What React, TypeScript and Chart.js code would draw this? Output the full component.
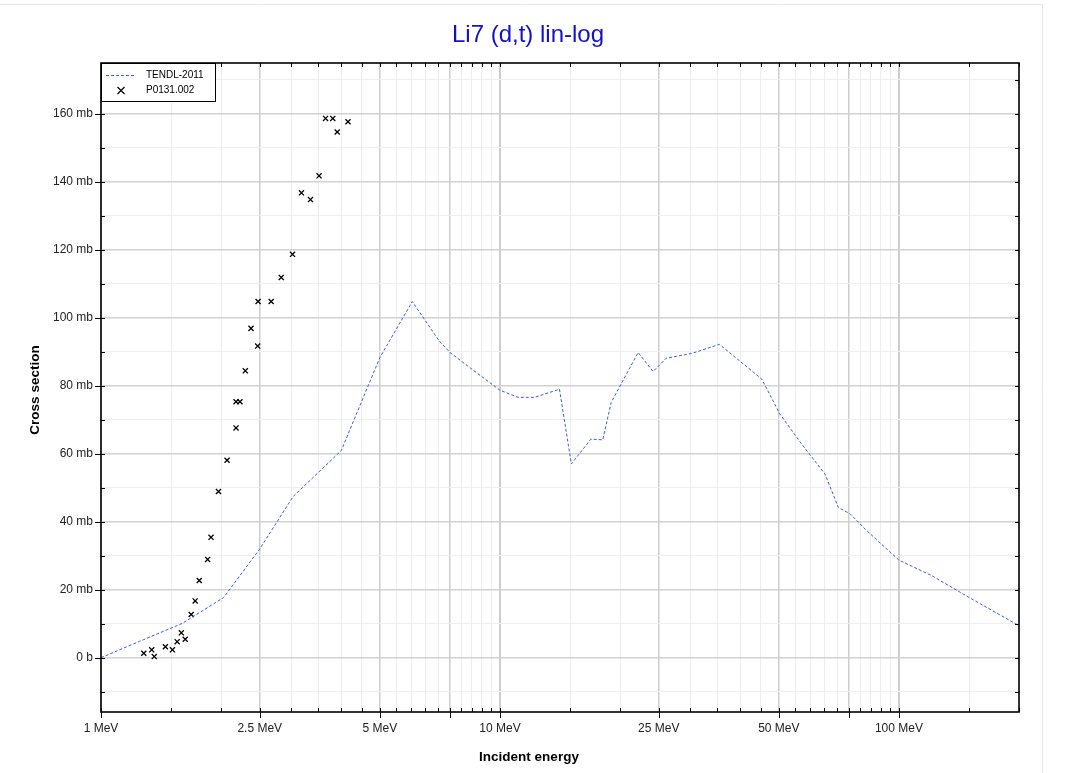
import React, { useEffect, useRef } from "react";
import { Chart, registerables } from "chart.js";

Chart.register(...registerables);

const TITLE = "Li7 (d,t) lin-log";
const X_TITLE = "Incident energy";
const Y_TITLE = "Cross section";
const LEGEND_LINE = "TENDL-2011";
const LEGEND_POINTS = "P0131.002";

// TENDL-2011 evaluated curve (energy in MeV, cross section in mb)
const tendlEnergy = [1, 1.25, 1.6, 2.03, 2.5, 3.03, 4.0, 5.0, 6.03, 7.04, 7.5, 8.5, 10, 11.1, 12.2, 14.1, 15.1, 16.9, 18.1, 19.0, 22.2, 24.2, 26.1, 30.2, 35.5, 45.3, 50.3, 57.1, 65.3, 70.5, 75.5, 82.3, 100, 121, 150, 200];
const tendlSigma = [0, 4.8, 10.1, 17.7, 32, 47.4, 60.9, 88.3, 104.8, 93.2, 89.8, 84.9, 78.7, 76.6, 76.6, 79.0, 57.0, 64.3, 64.1, 75.1, 89.8, 84.2, 88.1, 89.5, 92.2, 82.0, 71.7, 62.8, 54.0, 44.2, 42.3, 37.8, 28.7, 24.1, 17.7, 9.4];

// EXFOR P0131.002 measured points
const expEnergy = [1.28, 1.34, 1.36, 1.45, 1.51, 1.552, 1.59, 1.626, 1.683, 1.722, 1.763, 1.85, 1.887, 1.97, 2.07, 2.18, 2.18, 2.23, 2.30, 2.377, 2.47, 2.476, 2.67, 2.83, 3.02, 3.18, 3.35, 3.52, 3.655, 3.81, 3.91, 4.16];
const expSigma = [1.3, 2.3, 0.3, 3.2, 2.3, 4.7, 7.3, 5.4, 12.7, 16.7, 22.7, 28.9, 35.4, 48.9, 58.1, 67.6, 75.3, 75.3, 84.4, 96.9, 91.7, 104.8, 104.8, 111.9, 118.7, 136.8, 134.8, 141.8, 158.7, 158.7, 154.7, 157.7];

// axis ticks
const xTicks = [1, 1.5, 2, 2.5, 3, 3.5, 4, 4.5, 5, 5.5, 6, 6.5, 7, 7.5, 8, 8.5, 9, 9.5, 10, 15, 20, 25, 30, 35, 40, 45, 50, 55, 60, 65, 70, 75, 80, 85, 90, 95, 100, 150, 200];
const xMajor = [1, 2.5, 5, 7.5, 10, 25, 50, 75, 100];
const xDecades = [10, 100];
const xLabelValues = [1, 2.5, 5, 10, 25, 50, 100];
const xLabelTexts = ["1 MeV", "2.5 MeV", "5 MeV", "10 MeV", "25 MeV", "50 MeV", "100 MeV"];
const yTicks = [-10, 0, 10, 20, 30, 40, 50, 60, 70, 80, 90, 100, 110, 120, 130, 140, 150, 160, 170];
const yLabelValues = [0, 20, 40, 60, 80, 100, 120, 140, 160];
const yLabelTexts = ["0 b", "20 mb", "40 mb", "60 mb", "80 mb", "100 mb", "120 mb", "140 mb", "160 mb"];

const X_MIN = 1;
const X_MAX = 200;
const Y_MIN = -16;
const Y_MAX = 175;

const FONT = "'Liberation Sans', Arial, Helvetica, sans-serif";
const W = 1067;
const H = 773;

const overlay = {
  id: "overlay",
  beforeDraw(chart: any) {
    const { ctx } = chart;
    ctx.save();
    ctx.fillStyle = "#ffffff";
    ctx.fillRect(0, 0, W, H);
    ctx.strokeStyle = "#e6e6e6";
    ctx.lineWidth = 1;
    ctx.beginPath();
    ctx.moveTo(0, 4.5);
    ctx.lineTo(1042.5, 4.5);
    ctx.lineTo(1042.5, H);
    ctx.stroke();
    ctx.restore();
  },
  afterDraw(chart: any) {
    const { ctx, chartArea } = chart;
    const { left, right, top, bottom } = chartArea;
    const xs = chart.scales.x;
    const ys = chart.scales.y;
    ctx.save();

    // tick marks
    ctx.strokeStyle = "#000";
    ctx.lineWidth = 1;
    ctx.beginPath();
    for (const v of yTicks) {
      const py = Math.round(ys.getPixelForValue(v)) + 0.5;
      const major = yLabelValues.includes(v);
      ctx.moveTo(left - (major ? 6 : 0), py);
      ctx.lineTo(left + 4, py);
      ctx.moveTo(right - 4, py);
      ctx.lineTo(right, py);
    }
    for (const v of xTicks) {
      const px = Math.round(xs.getPixelForValue(v)) + 0.5;
      const major = xMajor.includes(v);
      ctx.moveTo(px, bottom + (major ? 6 : 0));
      ctx.lineTo(px, bottom - 4);
      ctx.moveTo(px, top);
      ctx.lineTo(px, top + 4);
    }
    ctx.stroke();

    // frame
    ctx.lineWidth = 1.6;
    ctx.strokeStyle = "#000";
    ctx.strokeRect(left, top, right - left, bottom - top);

    // legend
    const lx = left;
    const ly = top;
    const lw = 114;
    const lh = 38;
    ctx.fillStyle = "#fff";
    ctx.fillRect(lx, ly, lw, lh);
    ctx.lineWidth = 1;
    ctx.strokeStyle = "#000";
    ctx.strokeRect(lx + 0.5, ly + 0.5, lw, lh);
    ctx.strokeStyle = "#3a5fd9";
    ctx.setLineDash([3, 2]);
    ctx.beginPath();
    ctx.moveTo(lx + 5, ly + 12.5);
    ctx.lineTo(lx + 35, ly + 12.5);
    ctx.stroke();
    ctx.setLineDash([]);
    ctx.strokeStyle = "#000";
    ctx.lineWidth = 1.2;
    const cx = lx + 20;
    const cy = ly + 27.5;
    ctx.beginPath();
    ctx.moveTo(cx - 3.5, cy - 3.5);
    ctx.lineTo(cx + 3.5, cy + 3.5);
    ctx.moveTo(cx + 3.5, cy - 3.5);
    ctx.lineTo(cx - 3.5, cy + 3.5);
    ctx.stroke();
    ctx.fillStyle = "#000";
    ctx.font = `10px ${FONT}`;
    ctx.textAlign = "left";
    ctx.textBaseline = "middle";
    ctx.fillText(LEGEND_LINE, lx + 45, ly + 12.5);
    ctx.fillText(LEGEND_POINTS, lx + 45, ly + 27.5);

    // titles
    ctx.fillStyle = "#1111cc";
    ctx.font = `24px ${FONT}`;
    ctx.textAlign = "center";
    ctx.textBaseline = "middle";
    ctx.fillText(TITLE, 528, 35);

    ctx.fillStyle = "#000";
    ctx.font = `bold 13.5px ${FONT}`;
    ctx.fillText(X_TITLE, 529, 757);
    ctx.save();
    ctx.translate(35, 390);
    ctx.rotate(-Math.PI / 2);
    ctx.fillText(Y_TITLE, 0, 0);
    ctx.restore();

    ctx.restore();
  },
};

export default function App() {
  const ref = useRef<HTMLCanvasElement | null>(null);

  useEffect(() => {
    if (!ref.current) return;
    const lineData = tendlEnergy.map((e, i) => ({ x: e, y: tendlSigma[i] }));
    const pointData = expEnergy.map((e, i) => ({ x: e, y: expSigma[i] }));

    const chart = new Chart(ref.current, {
      type: "scatter",
      data: {
        datasets: [
          {
            label: LEGEND_LINE,
            data: lineData,
            showLine: true,
            borderColor: "#3a5fd9",
            borderWidth: 1,
            borderDash: [3, 2],
            pointRadius: 0,
            pointHoverRadius: 0,
            tension: 0,
            fill: false,
          },
          {
            label: LEGEND_POINTS,
            data: pointData,
            showLine: false,
            pointStyle: "crossRot",
            pointRadius: 3.6,
            pointBorderColor: "#000",
            pointBorderWidth: 1.3,
            borderColor: "#000",
            backgroundColor: "#000",
          },
        ],
      },
      options: {
        responsive: false,
        animation: false,
        devicePixelRatio: 1,
        layout: { padding: { top: 63, right: W - 1019, left: 0, bottom: 0 } },
        plugins: {
          legend: { display: false },
          title: { display: false },
          tooltip: { enabled: false },
        },
        scales: {
          x: {
            type: "logarithmic",
            min: X_MIN,
            max: X_MAX,
            afterBuildTicks: (s: any) => {
              s.ticks = xTicks.map((v) => ({ value: v, major: false }));
            },
            afterFit: (s: any) => {
              s.height = H - 712;
            },
            ticks: {
              autoSkip: false,
              maxRotation: 0,
              minRotation: 0,
              padding: 9,
              color: "#222",
              font: { family: FONT, size: 12 },
              callback: (v: any) => {
                const i = xLabelValues.indexOf(Number(v));
                return i >= 0 ? xLabelTexts[i] : "";
              },
            },
            grid: {
              drawTicks: false,
              color: (c: any) => {
                const v = c.tick ? c.tick.value : 0;
                return xMajor.includes(v) ? "#cdcdcd" : "#ededed";
              },
              lineWidth: (c: any) => {
                const v = c.tick ? c.tick.value : 0;
                if (xDecades.includes(v)) return 2;
                return xMajor.includes(v) ? 1.5 : 1;
              },
            },
            border: { display: false },
          },
          y: {
            type: "linear",
            min: Y_MIN,
            max: Y_MAX,
            afterBuildTicks: (s: any) => {
              s.ticks = yTicks.map((v) => ({ value: v }));
            },
            afterFit: (s: any) => {
              s.width = 101;
            },
            ticks: {
              autoSkip: false,
              padding: 8,
              color: "#222",
              font: { family: FONT, size: 12 },
              callback: (v: any) => {
                const i = yLabelValues.indexOf(Number(v));
                return i >= 0 ? yLabelTexts[i] : "";
              },
            },
            grid: {
              drawTicks: false,
              color: (c: any) => {
                const v = c.tick ? c.tick.value : 0;
                return yLabelValues.includes(v) ? "#d2d2d2" : "#efefef";
              },
              lineWidth: (c: any) => {
                const v = c.tick ? c.tick.value : 0;
                return yLabelValues.includes(v) ? 1.5 : 1;
              },
            },
            border: { display: false },
          },
        },
      },
      plugins: [overlay],
    });
    return () => chart.destroy();
  }, []);

  return (
    <canvas
      ref={ref}
      width={W}
      height={H}
      style={{ position: "fixed", left: 0, top: 0, width: W, height: H, display: "block" }}
    />
  );
}
